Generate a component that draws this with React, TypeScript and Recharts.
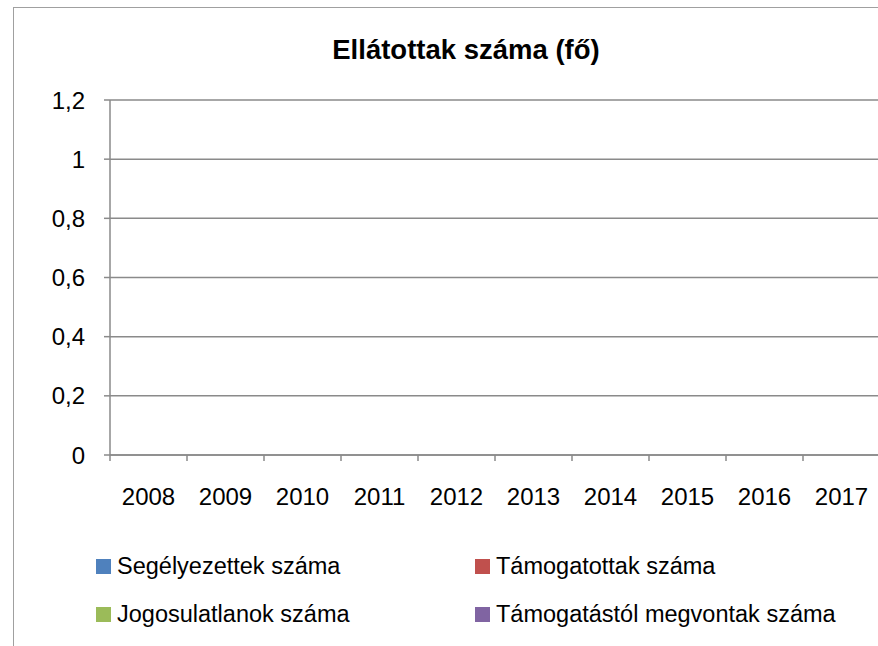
import { BarChart, Bar, XAxis, YAxis, CartesianGrid, Legend } from 'recharts';

const years = ['2008', '2009', '2010', '2011', '2012', '2013', '2014', '2015', '2016', '2017'];
// the source table is still empty: every year counts 0
const segelyezettek = [0, 0, 0, 0, 0, 0, 0, 0, 0, 0];
const tamogatottak = [0, 0, 0, 0, 0, 0, 0, 0, 0, 0];
const jogosulatlanok = [0, 0, 0, 0, 0, 0, 0, 0, 0, 0];
const megvontak = [0, 0, 0, 0, 0, 0, 0, 0, 0, 0];
const yTicks = [0, 0.2, 0.4, 0.6, 0.8, 1, 1.2];

const data = years.map((year, i) => ({
  year,
  segelyezettek: segelyezettek[i],
  tamogatottak: tamogatottak[i],
  jogosulatlanok: jogosulatlanok[i],
  megvontak: megvontak[i],
}));

const FONT = '"Liberation Sans", Arial, sans-serif';
const GRID = '#8a8a8a';
const PLOT_W = 770;
const BAND = PLOT_W / years.length;
const X_MARGIN = 42;

function YearTick(props: any) {
  const { x, y, payload, index, visibleTicksCount } = props;
  const axisY = y - X_MARGIN;
  const half = BAND / 2;
  return (
    <g>
      <line x1={x - half} x2={x - half} y1={axisY} y2={axisY + 6} stroke={GRID} strokeWidth={1.5} />
      {index === visibleTicksCount - 1 ? (
        <line x1={x + half} x2={x + half} y1={axisY} y2={axisY + 6} stroke={GRID} strokeWidth={1.5} />
      ) : null}
      <text x={x} y={y} dy="0.35em" textAnchor="middle" fill="#000" fontSize={24} fontFamily={FONT}>
        {payload.value}
      </text>
    </g>
  );
}

const legendOrder = ['Segélyezettek száma', 'Támogatottak száma', 'Jogosulatlanok száma', 'Támogatástól megvontak száma'];

function LegendGrid(props: any) {
  const items = [...(props.payload || [])].sort(
    (a: any, b: any) => legendOrder.indexOf(a.value) - legendOrder.indexOf(b.value)
  );
  return (
    <div style={{ display: 'grid', gridTemplateColumns: '379px 379px', rowGap: 28 }}>
      {items.map((it: any) => (
        <div key={it.value} style={{ display: 'flex', alignItems: 'center', height: 20 }}>
          <span style={{ width: 15, height: 15, background: it.color, marginRight: 6, flex: 'none' }} />
          <span style={{ fontFamily: FONT, fontSize: 23.5, color: '#000', whiteSpace: 'nowrap' }}>{it.value}</span>
        </div>
      ))}
    </div>
  );
}

export default function App() {
  return (
    <div style={{ position: 'fixed', left: 0, top: 0, width: 878, height: 646, overflow: 'hidden', background: '#fff' }}>
      <div
        style={{
          position: 'absolute',
          left: 13,
          top: 7,
          width: 900,
          height: 700,
          borderLeft: '1.5px solid #a0a0a0',
          borderTop: '1.5px solid #a0a0a0',
        }}
      />
      <div
        style={{
          position: 'absolute',
          left: 0,
          top: 33,
          width: 932,
          textAlign: 'center',
          fontFamily: FONT,
          fontWeight: 700,
          fontSize: 27.5,
          lineHeight: '34px',
          color: '#000',
        }}
      >
        Ellátottak száma (fő)
      </div>
      <div style={{ position: 'absolute', left: 0, top: 0 }}>
        <BarChart width={900} height={646} data={data} margin={{ top: 100, right: 20, left: 0, bottom: 131 }}>
          <CartesianGrid vertical={false} stroke={GRID} strokeWidth={1.5} />
          <XAxis
            dataKey="year"
            interval={0}
            height={60}
            tickSize={0}
            tickMargin={X_MARGIN}
            tickLine={false}
            axisLine={{ stroke: GRID, strokeWidth: 1.5 }}
            tick={<YearTick />}
          />
          <YAxis
            type="number"
            width={110}
            domain={[0, 1.2]}
            allowDataOverflow
            ticks={yTicks}
            interval={0}
            tickSize={6}
            tickMargin={19}
            axisLine={{ stroke: GRID, strokeWidth: 1.5 }}
            tickLine={{ stroke: GRID, strokeWidth: 1.5 }}
            tick={{ fill: '#000', fontSize: 24, fontFamily: FONT }}
            tickFormatter={(v: number) => String(v).replace('.', ',')}
          />
          <Legend
            layout="vertical"
            align="center"
            verticalAlign="middle"
            wrapperStyle={{ position: 'absolute', left: 96, top: 556, width: 780 }}
            content={<LegendGrid />}
          />
          <Bar dataKey="segelyezettek" name="Segélyezettek száma" fill="#4f81bd" isAnimationActive={false} />
          <Bar dataKey="tamogatottak" name="Támogatottak száma" fill="#c0504d" isAnimationActive={false} />
          <Bar dataKey="jogosulatlanok" name="Jogosulatlanok száma" fill="#9bbb59" isAnimationActive={false} />
          <Bar dataKey="megvontak" name="Támogatástól megvontak száma" fill="#8064a2" isAnimationActive={false} />
        </BarChart>
      </div>
    </div>
  );
}
